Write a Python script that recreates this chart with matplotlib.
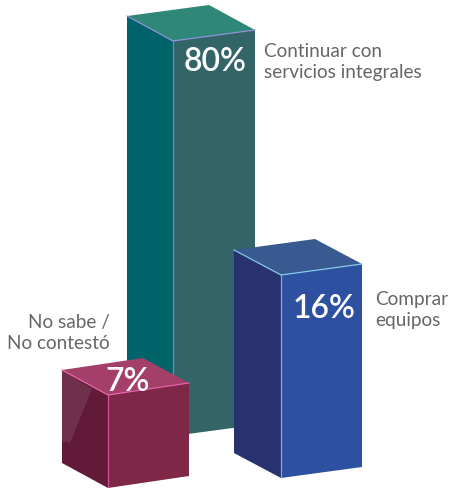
import numpy as np
import matplotlib
matplotlib.use("Agg")
import matplotlib.pyplot as plt
from matplotlib.patches import Polygon

# Survey answers
answers = ["Continuar con\nservicios integrales", "Comprar\nequipos", "No sabe /\nNo contestó"]
shares = [80, 16, 7]
share_labels = ["80%", "16%", "7%"]

# Pictorial height scale: share (%) to drawn height (px)
scale_shares = [0, 7, 16, 80]
scale_heights = [0, 93, 203, 395]

# Prism footprints: front corner, left and right corners relative to it (px)
front_corner = [(173, 436), (281, 478), (108, 488)]
left_offset = [(-46, -25), (-47, -25), (-46, -25)]
right_offset = [(82, -11), (81, -11), (81, -12)]

# Colours per prism
left_colors = ["#00636a", "#27326f", "#611a38"]
front_colors = ["#336468", "#2d50a0", "#7f2747"]
top_colors = ["#2f8877", "#385a90", "#a33f68"]
edge_colors = ["#9a90e8", "#90d8f4", "#f468b8"]

# Text placement
value_pos = [(215, 59), (324, 306), (128, 379)]
answer_pos = [(264, 62), (375, 310), (110, 333)]
answer_align = ["left", "left", "right"]
answer_spacing = [1.33, 1.33, 1.25]

GREY = "#666666"
plt.rcParams["font.family"] = ["Lato", "DejaVu Sans"]

fig = plt.figure(figsize=(4.5, 4.88), dpi=100)
ax = fig.add_axes([0, 0, 1, 1])
ax.set_xlim(0, 450)
ax.set_ylim(488, 0)
ax.axis("off")


def bar_height(share):
    return np.interp(share, scale_shares, scale_heights)


def draw_prism(i, z):
    f = np.array(front_corner[i], float)
    l = f + left_offset[i]
    r = f + right_offset[i]
    up = np.array([0, -bar_height(shares[i])])
    back_top = l + np.array(right_offset[i]) + up
    ax.add_patch(Polygon([l, f, f + up, l + up], fc=left_colors[i], ec="none", zorder=z))
    ax.add_patch(Polygon([f, r, r + up, f + up], fc=front_colors[i], ec="none", zorder=z))
    ax.add_patch(Polygon([l + up, f + up, r + up, back_top], fc=top_colors[i], ec="none", zorder=z))
    ax.plot(*zip(l + up, f + up, r + up), color=edge_colors[i], lw=0.9, alpha=0.85,
            solid_joinstyle="miter", zorder=z + 0.1)
    ax.plot(*zip(f + up, f), color=edge_colors[i], lw=0.9, alpha=0.7, zorder=z + 0.1)
    return l, f, up


for i in range(3):
    l, f, up = draw_prism(i, 2 + i)
    ax.text(*value_pos[i], share_labels[i], color="white", fontsize=23, fontweight="semibold",
            ha="center", va="center_baseline", zorder=8)
    ax.text(*answer_pos[i], answers[i], color=GREY, fontsize=13.7, fontweight="normal",
            ha=answer_align[i], va="center", linespacing=answer_spacing[i], zorder=8)
    if i == 2:
        # Soft sheen on the left face of the small cube
        top_l = l + up
        ax.add_patch(Polygon([top_l, top_l + (30, 19), top_l + (8, 73), top_l + (0, 71)],
                             fc="#702f4a", ec="none", zorder=4.05))

fig.savefig("out.png", dpi=100)
